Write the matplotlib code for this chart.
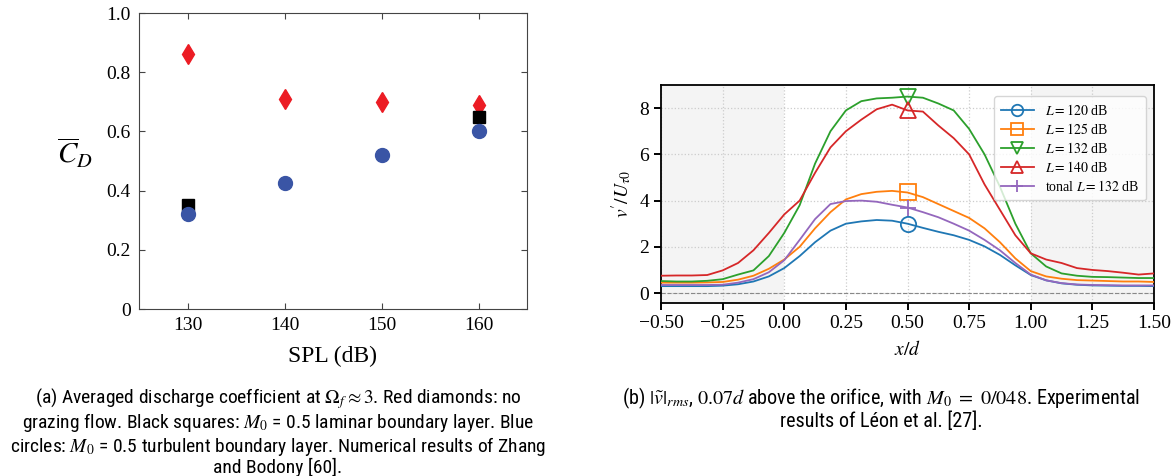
import numpy as np
import matplotlib
matplotlib.use("Agg")
from matplotlib import pyplot as plt
from matplotlib import font_manager

plt.rcParams['mathtext.fontset'] = 'stix'
plt.rcParams['font.family'] = ['Liberation Serif', 'DejaVu Serif']

# (a) discharge coefficient
spl = [130, 140, 150, 160]
cd_no_flow = [0.86, 0.71, 0.70, 0.69]
spl_laminar = [130, 160]
cd_laminar = [0.35, 0.65]
cd_turbulent = [0.32, 0.425, 0.52, 0.60]

# (b) v' profiles
xd = [-0.5, -0.4375, -0.375, -0.3125, -0.25, -0.1875, -0.125, -0.0625, 0.0,
      0.0625, 0.125, 0.1875, 0.25, 0.3125, 0.375, 0.4375, 0.5, 0.5625, 0.625,
      0.6875, 0.75, 0.8125, 0.875, 0.9375, 1.0, 1.0625, 1.125, 1.1875, 1.25,
      1.3125, 1.375, 1.4375, 1.5]
v120 = [0.30, 0.30, 0.30, 0.30, 0.32, 0.38, 0.50, 0.72, 1.08, 1.6, 2.2, 2.7,
        3.0, 3.1, 3.16, 3.13, 3.0, 2.82, 2.65, 2.5, 2.3, 2.02, 1.65, 1.2, 0.78,
        0.55, 0.42, 0.36, 0.33, 0.32, 0.31, 0.31, 0.30]
v125 = [0.45, 0.45, 0.45, 0.46, 0.48, 0.58, 0.75, 1.05, 1.45, 2.0, 2.8, 3.5,
        4.05, 4.28, 4.38, 4.42, 4.35, 4.15, 3.85, 3.55, 3.25, 2.8, 2.2, 1.5,
        0.95, 0.72, 0.62, 0.56, 0.54, 0.52, 0.5, 0.5, 0.48]
v132 = [0.52, 0.5, 0.5, 0.53, 0.6, 0.8, 0.98, 1.6, 2.6, 3.8, 5.6, 7.0, 7.9,
        8.3, 8.42, 8.45, 8.5, 8.45, 8.2, 7.9, 7.1, 6.0, 4.6, 3.0, 1.72, 1.15,
        0.85, 0.75, 0.7, 0.69, 0.67, 0.65, 0.65]
v140 = [0.75, 0.76, 0.76, 0.78, 0.98, 1.3, 1.85, 2.6, 3.4, 4.0, 5.2, 6.3, 7.0,
        7.5, 7.95, 8.15, 7.9, 7.85, 7.25, 6.7, 6.0, 4.7, 3.6, 2.5, 1.72, 1.45,
        1.3, 1.08, 1.0, 0.95, 0.88, 0.8, 0.85]
vtonal = [0.35, 0.35, 0.35, 0.35, 0.36, 0.45, 0.6, 0.9, 1.42, 2.3, 3.2, 3.85,
          3.98, 4.0, 3.95, 3.82, 3.7, 3.5, 3.28, 3.0, 2.7, 2.3, 1.85, 1.3, 0.8,
          0.55, 0.43, 0.37, 0.35, 0.34, 0.33, 0.33, 0.33]
labels = [r'$L = 120$ dB', r'$L = 125$ dB', r'$L = 132$ dB', r'$L = 140$ dB',
          r'tonal $L = 132$ dB']

W, H = 1176, 476
fig = plt.figure(figsize=(W / 100, H / 100), dpi=100)

# ---- left panel
ax1 = fig.add_axes([139 / W, 1 - 309 / H, (527 - 139) / W, (309 - 13) / H])
ax1.plot(spl, cd_no_flow, 'd', color='#ec1c24', markersize=10.5, linestyle='none')
ax1.plot(spl_laminar, cd_laminar, 's', color='black', markersize=8.5, linestyle='none')
ax1.plot(spl, cd_turbulent, 'o', color='#3a55a5', markersize=10, linestyle='none')
ax1.set_xlim(125, 165)
ax1.set_ylim(0, 1.0)
ax1.set_xticks([130, 140, 150, 160])
ax1.set_yticks([0, 0.2, 0.4, 0.6, 0.8, 1.0])
ax1.set_yticklabels(['0', '0.2', '0.4', '0.6', '0.8', '1.0'])
ax1.tick_params(direction='in', top=True, right=True, labelsize=14, length=4,
                color='#444444', pad=6)
for s in ax1.spines.values():
    s.set_color('#444444')
ax1.set_xlabel('SPL (dB)', fontsize=17, labelpad=8)
ax1.set_ylabel(r'$\overline{C}_D$', fontsize=21, rotation=0)
ax1.yaxis.set_label_coords(-0.165, 0.47)

# ---- right panel
ax2 = fig.add_axes([661 / W, 1 - 303 / H, (1154 - 661) / W, (303 - 85) / H])
ax2.axvspan(-0.5, 0.0, color='#f4f4f4', zorder=0, lw=0)
ax2.axvspan(1.0, 1.5, color='#f4f4f4', zorder=0, lw=0)
ax2.axhline(0, color='#888888', lw=0.8, ls='--', zorder=1)
ax2.grid(True, color='#cccccc', ls=':', lw=0.9, zorder=0)
ax2.set_axisbelow(True)
series = [(v120, 'o', '#1f77b4'), (v125, 's', '#ff7f0e'), (v132, 'v', '#2ca02c'),
          (v140, '^', '#d62728'), (vtonal, '+', '#9467bd')]
for (vals, mk, c), lab in zip(series, labels):
    ax2.plot(xd, vals, color=c, lw=1.3, marker=mk, markevery=[16], markersize=11,
             markerfacecolor='none', markeredgewidth=1.3, label=lab, zorder=3)
ax2.set_xlim(-0.5, 1.5)
ax2.set_ylim(-0.43, 9.0)
ax2.set_xticks(np.arange(-0.5, 1.51, 0.25))
ax2.set_xticklabels(['\u22120.50', '\u22120.25', '0.00', '0.25', '0.50', '0.75',
                     '1.00', '1.25', '1.50'])
ax2.set_yticks([0, 2, 4, 6, 8])
ax2.tick_params(direction='out', labelsize=14, length=5, width=1.4)
for s in ax2.spines.values():
    s.set_linewidth(1.3)
ax2.set_xlabel(r'$x/d$', fontsize=14, labelpad=6)
ax2.set_ylabel(r"$v^{\prime}/U_{\tau 0}$", fontsize=14, labelpad=4)
ax2.legend(loc='upper right', fontsize=10, handlelength=2.4, labelspacing=0.3,
           borderpad=0.45, framealpha=0.8, edgecolor='#cccccc', markerscale=0.75,
           bbox_to_anchor=(0.997, 0.98))

# ---- captions
avail = {f.name for f in font_manager.fontManager.ttflist}
cap_font = [f for f in ['Roboto Condensed', 'Liberation Sans Narrow', 'Liberation Sans']
            if f in avail] + ['DejaVu Sans']
cap_a = ("(a) Averaged discharge coefficient at $\\Omega_f \\approx 3$. Red diamonds: no\n"
         "grazing flow. Black squares: $M_0$ = 0.5 laminar boundary layer. Blue\n"
         "circles: $M_0$ = 0.5 turbulent boundary layer. Numerical results of Zhang\n"
         "and Bodony [60].")
cap_b = ("(b) $|\\tilde{v}|_{rms}$, $0.07d$ above the orifice, with $M_0\\ =\\ 0/048$. Experimental\n"
         "results of Léon et al. [27].")
fig.text(278 / W, 1 - 386 / H, cap_a, ha='center', va='top', fontsize=14,
         family=cap_font, linespacing=1.02)
fig.text(881 / W, 1 - 386 / H, cap_b, ha='center', va='top', fontsize=14.5,
         family=cap_font, linespacing=1.02)

fig.savefig('out.png', dpi=100)
